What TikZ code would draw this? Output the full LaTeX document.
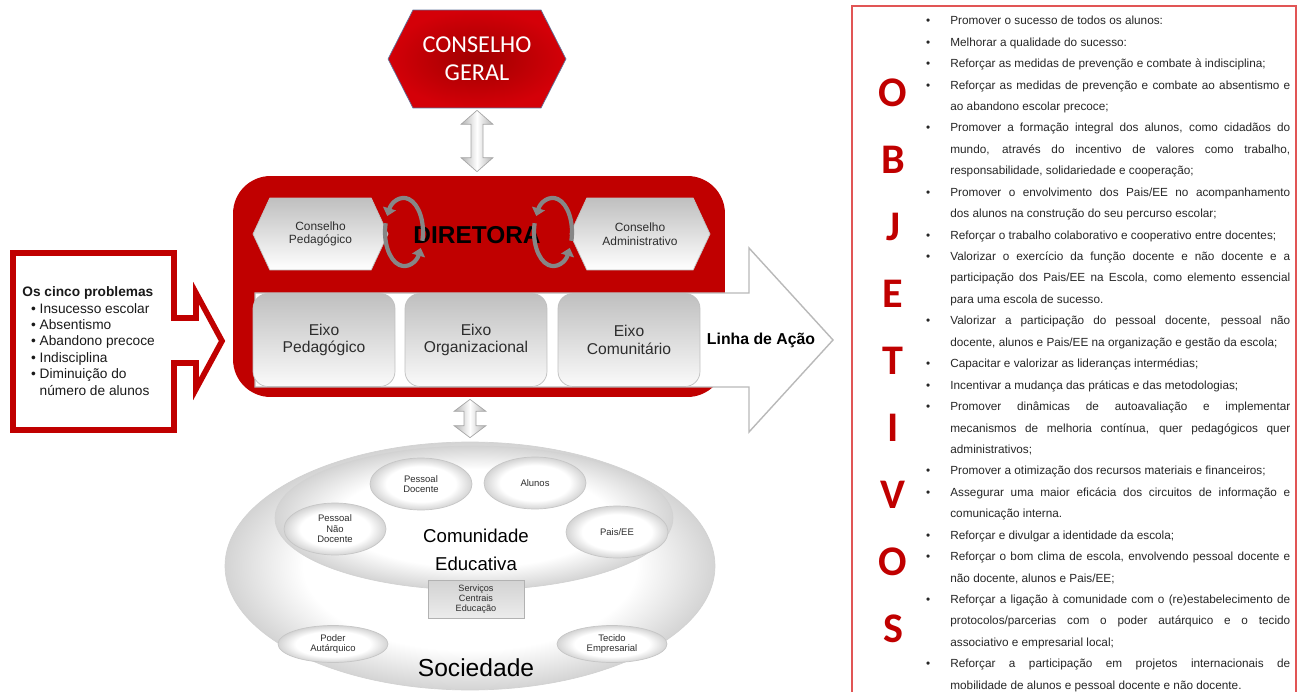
\documentclass[tikz,border=0pt]{standalone}
\usepackage{fontspec}
\setmainfont{Liberation Sans}
\newfontfamily\calibri{Carlito}
\usepackage{enumitem}
\usepackage{tikz}
\usetikzlibrary{positioning}
\usetikzlibrary{calc}
\usetikzlibrary{shapes.geometric,shapes.symbols}
\usetikzlibrary{arrows.meta}

\definecolor{escred}{RGB}{192,0,0}
\definecolor{geraldark}{RGB}{160,0,0}
\definecolor{geralred}{RGB}{212,0,8}
\definecolor{hexedge}{RGB}{95,115,155}
\definecolor{framered}{RGB}{225,85,85}
\definecolor{inkgray}{RGB}{45,45,45}

\pgfdeclareradialshading{rim}{\pgfpoint{0bp}{0bp}}{color(0bp)=(white); color(17bp)=(white); color(25bp)=(black!17); color(50bp)=(black!17)}

\begin{document}
\begin{tikzpicture}[
                x=0.02cm, y=-0.02cm,
                redbox/.style={rectangle, rounded corners=0.75cm, fill=escred, minimum width=9.84cm, minimum height=4.42cm},
                geralhex/.style={signal, signal to=east and west, signal pointer angle=126, minimum width=3.56cm, minimum height=1.96cm, inner sep=0pt, draw=hexedge, inner color=geraldark, outer color=geralred, text=white, align=center, font=\calibri\fontsize{13.8}{15.9}\selectfont},
                conshex/.style={signal, signal to=east and west, signal pointer angle=130, minimum height=1.44cm, inner sep=0pt, draw=gray!50, top color=gray!50, bottom color=white, text=inkgray, align=center, font=\fontsize{6.8}{7.8}\selectfont},
                eixo/.style={rectangle, rounded corners=0.3cm, minimum width=2.84cm, minimum height=1.86cm, draw=gray!50, top color=gray!50, bottom color=gray!4, text=inkgray, align=center, font=\fontsize{8.9}{10}\selectfont},
                turn/.style={draw=gray!95, line width=2.4pt, -{Triangle[length=4.5pt, width=7.5pt]}},
                link/.style={draw=gray!70, left color=gray!60, right color=gray!60, middle color=white, line width=0.4pt},
                ring/.style={ellipse, draw=gray!35, shading=rim, inner sep=0pt},
                bubble/.style={ellipse, draw=gray!45, shading=rim, inner sep=0pt, minimum width=2.04cm, minimum height=1.04cm, text=inkgray, align=center, font=\fontsize{5.4}{6}\selectfont},
                flatbubble/.style={bubble, minimum width=2.2cm, minimum height=0.74cm},
                probtext/.style={inner sep=0pt, align=left, text=black!90, font=\fontsize{7.8}{9.35}\selectfont},
                objletter/.style={text=escred, inner sep=0pt, font=\calibri\bfseries\fontsize{24}{24}\selectfont},
                objtext/.style={text width=7.36cm, inner sep=0pt, align=justify, text=black!85, font=\fontsize{6.7}{12.2}\selectfont}
            ]
            \useasboundingbox (0,0) rectangle (1298,692);

            % Problems callout
            \draw[escred, line width=3.2pt, line join=miter] (13,253) -- (174,253) -- (174,318) -- (196,318) -- (196,293) -- (222,341)
                -- (196,389) -- (196,363) -- (174,363) -- (174,430) -- (13,430) -- cycle;
            \node[probtext, anchor=west] (probs) at (22,341) {\textbf{Os cinco problemas}\\
                \hspace*{5pt}\textbullet\ Insucesso escolar\\
                \hspace*{5pt}\textbullet\ Absentismo\\
                \hspace*{5pt}\textbullet\ Abandono precoce\\
                \hspace*{5pt}\textbullet\ Indisciplina\\
                \hspace*{5pt}\textbullet\ Diminuição do\\
                \hspace*{5pt}\phantom{\textbullet\ }número de alunos};

            % Direction block
            \node[redbox] (dirbox) at (479,286.5) {};
            \draw[fill=white, draw=gray!55, line width=0.8pt, line join=miter] (255,293) -- (749,293) -- (749,248) -- (833,340)
                -- (749,432) -- (749,387) -- (255,387) -- cycle;
            \node[font=\bfseries\fontsize{9}{10}\selectfont] (linha) at (761,340) {Linha de Ação};

            \node[eixo] (eped) at (324,340) {Eixo\\Pedagógico};
            \node[eixo] (eorg) at (476,340) {Eixo\\Organizacional};
            \node[eixo] (ecom) at (629,340) {Eixo\\Comunitário};

            \node[conshex, minimum width=2.7cm] (cped) at (320.5,234) {Conselho\\Pedagógico};
            \node[conshex, minimum width=2.8cm] (cadm) at (640,234) {Conselho\\Administrativo};
            \node[font=\bfseries\fontsize{13.9}{14}\selectfont] (dir) at (477,235) {DIRETORA};

            % Exchange loops
            \coordinate (loopl) at (404,232);
            \coordinate (loopr) at (553,232);
            \foreach \c in {loopl,loopr} {
                \draw[turn] ($(\c)+(-15:0.38cm and 0.68cm)$) arc[start angle=-15, end angle=152, x radius=0.38cm, y radius=0.68cm];
                \draw[turn] ($(\c)+(165:0.38cm and 0.68cm)$) arc[start angle=165, end angle=332, x radius=0.38cm, y radius=0.68cm];
            }

            % General council
            \node[geralhex] (geral) at (477,59) {CONSELHO\\GERAL};

            % Society
            \node[ring, minimum width=9.8cm, minimum height=4.96cm] (soc) at (470,566) {};
            \node[ring, minimum width=7.96cm, minimum height=2.88cm] (com) at (474,518) {};
            \node[bubble] (pdoc) at (421,484) {Pessoal\\Docente};
            \node[bubble] (alun) at (535,483) {Alunos};
            \node[bubble] (pndoc) at (335,529) {Pessoal\\Não\\Docente};
            \node[bubble] (pais) at (617,532) {Pais/EE};
            \node[font=\fontsize{10.6}{15.9}\selectfont, align=center] (comtxt) at (476,550) {Comunidade\\Educativa};
            \node[rectangle, draw=gray!60, top color=gray!35, bottom color=gray!15, minimum width=1.92cm, minimum height=0.76cm, inner sep=0pt,
                text=inkgray, align=center, font=\fontsize{5.2}{5.8}\selectfont] (serv) at (476,599) {Serviços\\Centrais\\Educação};
            \node[flatbubble] (poder) at (333,644) {Poder\\Autárquico};
            \node[flatbubble] (tecido) at (612,644) {Tecido\\Empresarial};
            \node[font=\fontsize{14}{14}\selectfont] (soctxt) at (476,668) {Sociedade};

            % Links
            \shadedraw[link] ($(geral.south)+(0,2)$) -- ++(16,14) -- ++(-10,0) -- ($(geral.south |- dirbox.north)+(6,-18)$)
                -- ++(10,0) -- ++(-16,14) -- ++(-16,-14) -- ++(10,0) -- ($(geral.south)+(-6,16)$) -- ++(-10,0) -- cycle;
            \shadedraw[link] ($(soc.north |- dirbox.south)+(0,2)$) -- ++(16,12) -- ++(-10,0) -- ($(soc.north)+(6,-16)$)
                -- ++(10,0) -- ++(-16,12) -- ++(-16,-12) -- ++(10,0) -- ($(soc.north |- dirbox.south)+(-6,14)$) -- ++(-10,0) -- cycle;

            % Objectives
            \draw[framered, line width=1.1pt] (852,692) -- (852,6) -- (1296,6) -- (1296,692);
            \foreach \l [count=\i from 0] in {O,B,J,E,T,I,V,O,S}
                \node[objletter] (let\i) at (893,93+67*\i) {\l};
            \node[objtext, anchor=north west] (objlist) at (922,3) {\hyphenpenalty=10000\exhyphenpenalty=10000
                \begin{itemize}[leftmargin=0.56cm, labelsep=0.4cm, label=\textbullet, nosep]
                \item Promover o sucesso de todos os alunos:
                \item Melhorar a qualidade do sucesso:
                \item Reforçar as medidas de prevenção e combate à indisciplina;
                \item Reforçar as medidas de prevenção e combate ao absentismo e\linebreak ao abandono escolar precoce;
                \item Promover a formação integral dos alunos, como cidadãos do\linebreak mundo, através do incentivo de valores como trabalho,\linebreak responsabilidade, solidariedade e cooperação;
                \item Promover o envolvimento dos Pais/EE no acompanhamento\linebreak dos alunos na construção do seu percurso escolar;
                \item Reforçar o trabalho colaborativo e cooperativo entre docentes;
                \item Valorizar o exercício da função docente e não docente e a\linebreak participação dos Pais/EE na Escola, como elemento essencial\linebreak para uma escola de sucesso.
                \item Valorizar a participação do pessoal docente, pessoal não\linebreak docente, alunos e Pais/EE na organização e gestão da escola;
                \item Capacitar e valorizar as lideranças intermédias;
                \item Incentivar a mudança das práticas e das metodologias;
                \item Promover dinâmicas de autoavaliação e implementar\linebreak mecanismos de melhoria contínua, quer pedagógicos quer\linebreak administrativos;
                \item Promover a otimização dos recursos materiais e financeiros;
                \item Assegurar uma maior eficácia dos circuitos de informação e\linebreak comunicação interna.
                \item Reforçar e divulgar a identidade da escola;
                \item Reforçar o bom clima de escola, envolvendo pessoal docente e\linebreak não docente, alunos e Pais/EE;
                \item Reforçar a ligação à comunidade com o (re)estabelecimento de\linebreak protocolos/parcerias com o poder autárquico e o tecido\linebreak associativo e empresarial local;
                \item Reforçar a participação em projetos internacionais de\linebreak mobilidade de alunos e pessoal docente e não docente.
                \end{itemize}};

            \end{tikzpicture}
\end{document}
